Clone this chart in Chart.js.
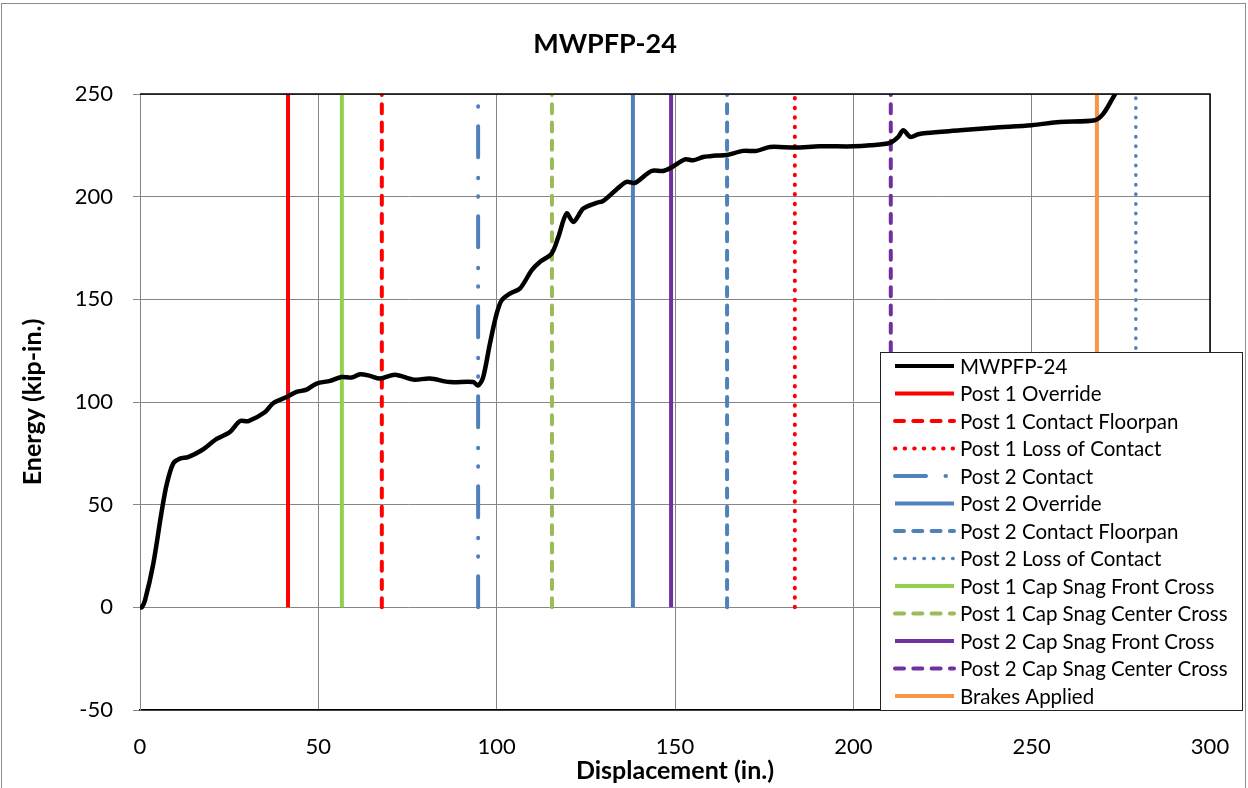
<!DOCTYPE html>
<html lang="en">
<head>
    <meta charset="UTF-8">
    <title>MWPFP-24</title>
    <script src="https://cdn.jsdelivr.net/npm/chart.js"></script>
    <style>
        body {
            margin: 0;
            background: #fff;
        }
        #wrap {
            width: 1248px;
            height: 788px;
        }
    </style>
</head>
<body>
    <div id="wrap"><canvas id="chart"></canvas></div>

    <script>
        // energy curve
        const dispIn = [0, 0.5, 1.4, 3.7, 6.1, 7.5, 9.3, 11.2, 13.5, 17.3, 21.5, 25.2, 28, 30.4, 35, 37.4,
            41.1, 43.9, 46.7, 49.5, 53.3, 56.5, 59.3, 61.7, 64.5, 67.3, 71.5, 76.6, 81.3, 86.9, 93.4,
            94.8, 96.2, 98.1, 100, 101.4, 103.7, 106.5, 109.8, 112.1, 115.4, 117.3, 119.6, 121.5,
            124.3, 128, 129.9, 133.6, 136.4, 138.8, 143.4, 146.7, 149, 152.8, 155.1, 157.9, 159.8,
            161.7, 164.5, 169.1, 172.9, 176.6, 183.6, 190.6, 200, 204.7, 210.3, 212.6, 214, 216,
            218.2, 220.5, 229.9, 239.2, 250, 257.9, 267.7, 270.1, 272.9, 275];
        const energyKipIn = [0, 0, 3.4, 21, 47, 60, 70, 72.4, 73.2, 76.5, 82, 85.4, 90.7, 90.7, 95, 99.5,
            102.4, 104.9, 106, 109, 110.3, 112.2, 111.9, 113.5, 112.7, 111.4, 113.3, 110.9, 111.4, 109.7, 109.7,
            108, 112, 128.4, 143, 149.5, 152.8, 155.2, 164.1, 168.2, 172.3, 180.4, 191.8, 187.7,
            194.2, 197, 198, 203.5, 207.2, 206.7, 212.5, 212.5, 214.2, 218.2, 217.7, 219.3, 219.7,
            220, 220.3, 222.3, 222.3, 224.2, 223.9, 224.5, 224.5, 225, 226.2, 229.1, 232.4, 229.1,
            230.4, 231, 232.3, 233.6, 234.8, 236.4, 237.2, 240.4, 248.5, 255];

        // event markers (vertical lines from 0 to 250)
        const eventNames = ['Post 1 Override', 'Post 1 Contact Floorpan', 'Post 1 Loss of Contact',
            'Post 2 Contact', 'Post 2 Override', 'Post 2 Contact Floorpan', 'Post 2 Loss of Contact',
            'Post 1 Cap Snag Front Cross', 'Post 1 Cap Snag Center Cross', 'Post 2 Cap Snag Front Cross',
            'Post 2 Cap Snag Center Cross', 'Brakes Applied'];
        const eventDisp = [41.5, 67.8, 183.6, 94.8, 138.2, 164.6, 279.2, 56.6, 115.5, 148.9, 210.5, 268.3];
        const eventLow = 0;
        const eventHigh = 250;

        const xTicks = [0, 50, 100, 150, 200, 250, 300];
        const yTicks = [-50, 0, 50, 100, 150, 200, 250];

        // looks
        const eventColors = ['#FF0000', '#FF0000', '#FF0000', '#4F81BD', '#4F81BD', '#4F81BD', '#4F81BD',
            '#92D050', '#9BBB59', '#7030A0', '#7030A0', '#F79646'];
        const DASH = [9, 9.3];
        const DOT = [0.5, 9.1];
        const DASHDOT = [31, 19.5, 0.5, 18, 0.5, 20.5];
        const eventDashes = [[], DASH, DOT, DASHDOT, [], DASH, DOT, [], DASH, [], DASH, []];
        const eventWidths = [4, 4, 4, 4, 4, 4, 3.5, 4, 4, 4, 4, 4];

        const FONT = 'Lato, "Open Sans", sans-serif';
        const GRID = '#868686';

        const datasets = [{
            label: 'MWPFP-24',
            data: dispIn.map((x, i) => ({ x: x, y: energyKipIn[i] })),
            borderColor: '#000',
            borderWidth: 4.5,
            pointRadius: 0,
            tension: 0.3,
            showLine: true
        }];
        eventNames.forEach((name, i) => {
            datasets.push({
                label: name,
                data: [{ x: eventDisp[i], y: eventLow }, { x: eventDisp[i], y: eventHigh }],
                borderColor: eventColors[i],
                borderWidth: eventWidths[i],
                borderDash: eventDashes[i],
                borderCapStyle: eventDashes[i].length ? 'round' : 'butt',
                pointRadius: 0,
                showLine: true
            });
        });

        // white page + thin grey frame
        const frame = {
            id: 'frame',
            beforeDraw(chart) {
                const c = chart.ctx;
                c.save();
                c.fillStyle = '#fff';
                c.fillRect(0, 0, chart.width, chart.height);
                c.strokeStyle = '#8c8c8c';
                c.lineWidth = 1;
                c.strokeRect(1.5, 3.5, chart.width - 4, chart.height + 4);
                c.restore();
            },
            afterDatasetsDraw(chart) {
                const a = chart.chartArea;
                const c = chart.ctx;
                c.save();
                c.strokeStyle = '#000';
                c.lineWidth = 1.5;
                c.beginPath();
                c.moveTo(a.left, a.top);
                c.lineTo(a.right, a.top);
                c.lineTo(a.right, a.bottom);
                c.stroke();
                c.restore();
            }
        };

        // boxed legend sitting on the lower right of the plot
        const boxLegend = {
            id: 'boxLegend',
            afterDraw(chart) {
                const c = chart.ctx;
                const x0 = 880, y0 = 352, w = 362, h = 358;
                c.save();
                c.fillStyle = '#fff';
                c.fillRect(x0, y0, w, h);
                c.strokeStyle = '#222';
                c.lineWidth = 1;
                c.strokeRect(x0 + 0.5, y0 + 0.5, w, h);
                c.font = '20.5px ' + FONT;
                c.textBaseline = 'middle';
                chart.data.datasets.forEach((ds, i) => {
                    const y = 366 + i * 27.5;
                    c.strokeStyle = ds.borderColor;
                    c.lineWidth = Math.min(ds.borderWidth, 4);
                    c.setLineDash(ds.borderDash || []);
                    c.lineCap = ds.borderCapStyle || 'butt';
                    c.beginPath();
                    c.moveTo(895, y);
                    c.lineTo(954, y);
                    c.stroke();
                    c.setLineDash([]);
                    c.fillStyle = '#000';
                    c.fillText(ds.label, 960, y + 1);
                });
                c.restore();
            }
        };

        new Chart(document.getElementById('chart'), {
            type: 'scatter',
            data: { datasets: datasets },
            plugins: [frame, boxLegend],
            options: {
                responsive: true,
                maintainAspectRatio: false,
                animation: false,
                layout: { padding: { top: 10, right: 38, bottom: 0, left: 0 } },
                plugins: {
                    legend: { display: false },
                    tooltip: { enabled: false },
                    title: {
                        display: true,
                        text: 'MWPFP-24',
                        color: '#000',
                        font: { family: FONT, size: 27, weight: 'bold', lineHeight: 1.2 },
                        padding: { top: 17.8, bottom: 33.8 }
                    }
                },
                scales: {
                    x: {
                        type: 'linear',
                        min: 0,
                        max: 300,
                        afterBuildTicks: s => { s.ticks = xTicks.map(v => ({ value: v })); },
                        afterFit: s => { s.height = 78; s.paddingLeft = 0; s.paddingRight = 0; },
                        grid: { color: GRID, lineWidth: 1, drawTicks: false },
                        border: { color: '#000', width: 1.5 },
                        ticks: { color: '#000', padding: 24, maxRotation: 0, font: { family: FONT, size: 22 } },
                        title: {
                            display: true,
                            text: 'Displacement (in.)',
                            color: '#000',
                            font: { family: FONT, size: 25, weight: 'bold', lineHeight: 1.2 },
                            padding: { top: 2, bottom: 2 }
                        }
                    },
                    y: {
                        min: -50,
                        max: 250,
                        afterBuildTicks: s => { s.ticks = yTicks.map(v => ({ value: v })); },
                        afterFit: s => { s.width = 140; },
                        grid: { color: GRID, lineWidth: 1, tickLength: 7 },
                        border: { color: GRID, width: 1 },
                        ticks: { color: '#000', padding: 20, font: { family: FONT, size: 22 } },
                        title: {
                            display: true,
                            text: 'Energy (kip-in.)',
                            color: '#000',
                            font: { family: FONT, size: 25, weight: 'bold', lineHeight: 1.2 },
                            padding: { top: 18, bottom: 0 }
                        }
                    }
                }
            }
        });
    </script>
</body>
</html>
